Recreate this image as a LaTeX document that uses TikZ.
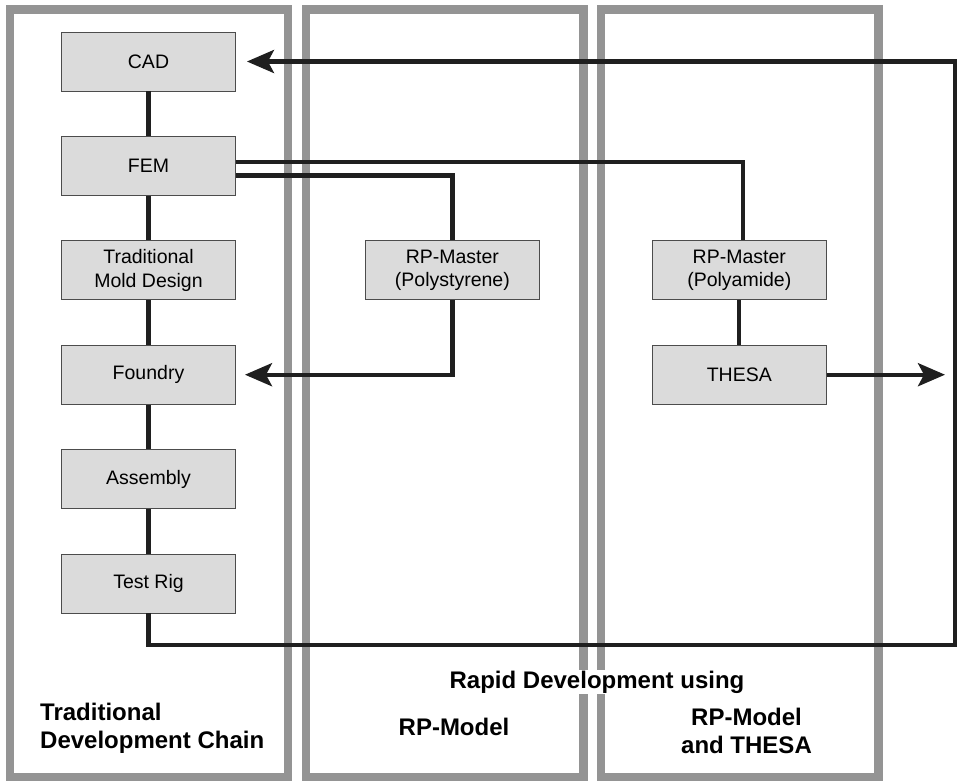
\documentclass[tikz,border=0pt]{standalone}
\usepackage{fontspec}
\setmainfont{Liberation Sans}
\usetikzlibrary{arrows.meta,positioning}

\begin{document}
\begin{tikzpicture}[x=1pt, y=-1pt, line join=miter,
	box/.style={draw=black!70, line width=0.9pt, fill=black!14, minimum width=174pt, minimum height=59pt, inner sep=0pt, align=center, font=\fontsize{19.5}{23.5}\selectfont},
	colframe/.style={draw=black!42, line width=8.5pt},
	link/.style={draw=black!88, line width=4.2pt},
	arr/.style={-{Stealth[length=27pt,width=23pt,inset=6pt]}},
	headtxt/.style={font=\fontsize{24}{27.5}\selectfont\bfseries, inner sep=1pt}]
	\useasboundingbox (0,0) rectangle (957,780);
	% the three columns
	\draw[colframe] (10,9.5) rectangle (288,777.5);
	\draw[colframe] (306,9.5) rectangle (583.5,777.5);
	\draw[colframe] (601,9.5) rectangle (878.5,777.5);
	% traditional chain
	\node[box] (cad) at (148.5,61.5) {CAD};
	\node[box, below=44.5pt of cad] (fem) {FEM};
	\node[box, below=44.5pt of fem] (mold) {Traditional\\Mold Design};
	\node[box, below=44.5pt of mold] (foundry) {Foundry};
	\node[box, below=44.5pt of foundry] (assembly) {Assembly};
	\node[box, below=44.5pt of assembly] (testrig) {Test Rig};
	% rapid development
	\node[box, right=129pt of mold] (ps) {RP-Master\\(Polystyrene)};
	\node[box, right=112pt of ps] (pa) {RP-Master\\(Polyamide)};
	\node[box, below=44.5pt of pa] (thesa) {THESA};
	\coordinate (thesaend) at (945,372.5);
	\coordinate (loopcorner) at (955,645);
	\foreach \a/\b in {cad/fem,fem/mold,mold/foundry,foundry/assembly,assembly/testrig}
		\draw[link] (\a) -- (\b);
	\draw[link] ([yshift=4pt]fem.east) -| ([xshift=4pt]pa.north);
	\draw[link] ([yshift=-9.5pt]fem.east) -| (ps.north);
	\draw[link] (pa) -- (thesa);
	\draw[link, arr] (ps.south) |- ([xshift=9pt]foundry.east);
	\draw[link, arr] (thesa.east) -- (thesa.east -| thesaend);
	\draw[link, arr] (testrig.south) |- (loopcorner) |- ([xshift=11pt]cad.east);
	% column titles
	\node[headtxt, fill=white, anchor=base] (rapid) at (597,688) {Rapid Development using};
	\node[headtxt, align=left, anchor=base west] (tradlbl) at (39,748) {Traditional\\Development Chain};
	\node[headtxt, anchor=base] (rpmlbl) at (454,735) {RP-Model};
	\node[headtxt, align=center, anchor=base] (thesalbl) at (746.5,753) {RP-Model\\and THESA};
\end{tikzpicture}
\end{document}
